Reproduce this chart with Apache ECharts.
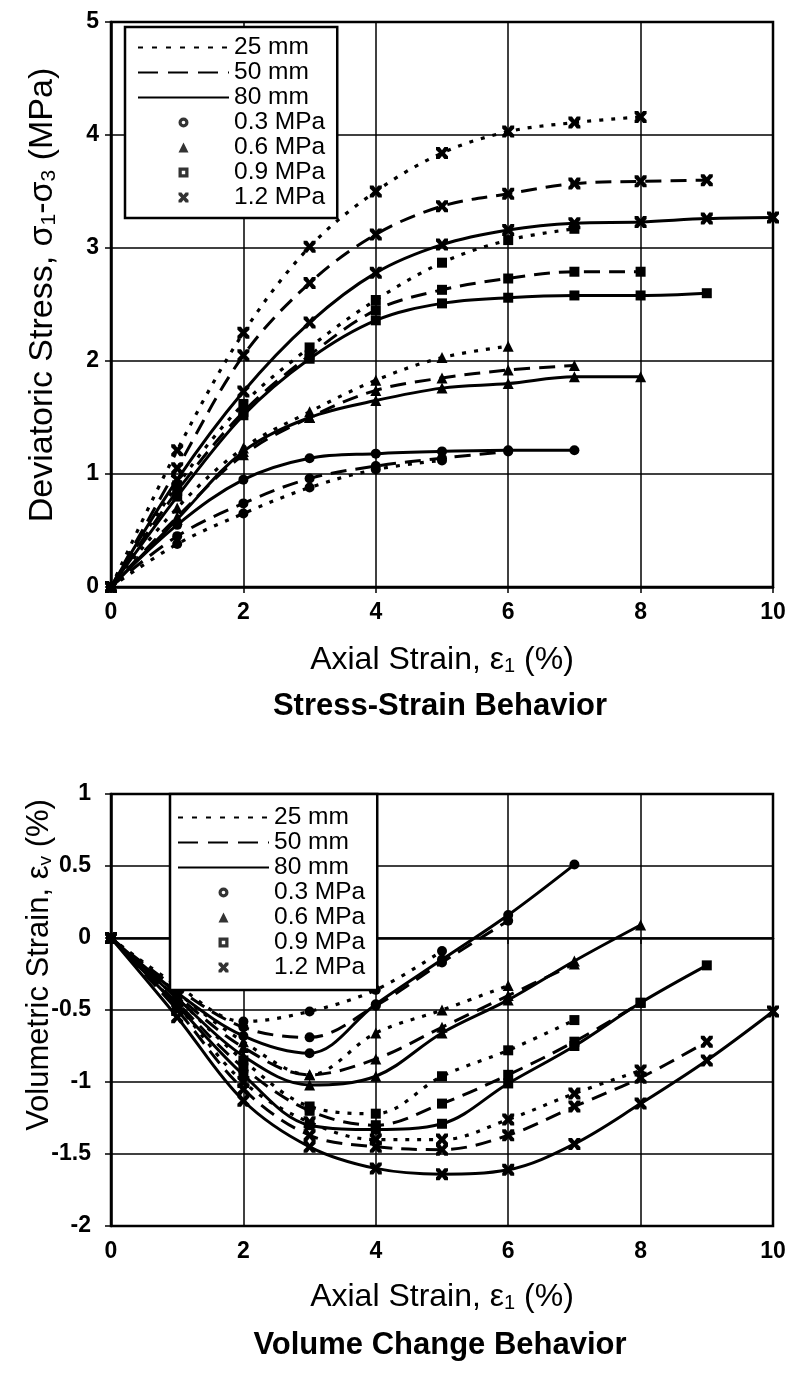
<!DOCTYPE html>
<html><head><meta charset="utf-8">
<script src="https://cdn.jsdelivr.net/npm/echarts@6/dist/echarts.min.js"></script>
<style>html,body{margin:0;padding:0;background:#fff}#c{width:789px;height:1385px}</style>
</head><body><div id="c"></div>
<script>
// ---------- data ----------
const strain = [0, 1, 2, 3, 4, 5, 6, 7, 8, 9, 10];
const xTicks = [0, 2, 4, 6, 8, 10];
const stressTicks = [0, 1, 2, 3, 4, 5];
const volTicks = [-2, -1.5, -1, -0.5, 0, 0.5, 1];
const sizes = ['25 mm', '50 mm', '80 mm'];
const pressures = ['0.3 MPa', '0.6 MPa', '0.9 MPa', '1.2 MPa'];

// Deviatoric stress (MPa) vs axial strain (%)
const s25_03 = [0, 0.38, 0.65, 0.88, 1.04, 1.12];
const s25_06 = [0, 0.70, 1.23, 1.55, 1.83, 2.03, 2.13];
const s25_09 = [0, 0.90, 1.62, 2.12, 2.54, 2.87, 3.07, 3.17];
const s25_12 = [0, 1.21, 2.25, 3.01, 3.50, 3.84, 4.03, 4.11, 4.16];
const s50_03 = [0, 0.45, 0.74, 0.96, 1.07, 1.14, 1.20];
const s50_06 = [0, 0.62, 1.17, 1.50, 1.74, 1.85, 1.92, 1.96];
const s50_09 = [0, 0.85, 1.55, 2.05, 2.45, 2.63, 2.73, 2.79, 2.79];
const s50_12 = [0, 1.05, 2.05, 2.69, 3.12, 3.37, 3.48, 3.57, 3.59, 3.60];
const s80_03 = [0, 0.55, 0.95, 1.14, 1.18, 1.20, 1.21, 1.21];
const s80_06 = [0, 0.60, 1.20, 1.50, 1.65, 1.76, 1.80, 1.86, 1.86];
const s80_09 = [0, 0.80, 1.52, 2.02, 2.36, 2.51, 2.56, 2.58, 2.58, 2.60];
const s80_12 = [0, 0.95, 1.73, 2.34, 2.78, 3.03, 3.16, 3.22, 3.23, 3.26, 3.27];

// Volumetric strain (%) vs axial strain (%)
const v25_03 = [0, -0.33, -0.58, -0.51, -0.36, -0.09];
const v25_06 = [0, -0.38, -0.72, -0.95, -0.66, -0.50, -0.33];
const v25_09 = [0, -0.42, -0.85, -1.17, -1.22, -0.96, -0.78, -0.57];
const v25_12 = [0, -0.47, -1.00, -1.28, -1.40, -1.40, -1.26, -1.08, -0.92];
const v50_03 = [0, -0.35, -0.62, -0.69, -0.47, -0.17, 0.12];
const v50_06 = [0, -0.40, -0.76, -0.95, -0.84, -0.62, -0.40, -0.18];
const v50_09 = [0, -0.45, -0.90, -1.20, -1.30, -1.15, -0.95, -0.72, -0.45];
const v50_12 = [0, -0.50, -1.05, -1.37, -1.45, -1.47, -1.37, -1.17, -0.97, -0.72];
const v80_03 = [0, -0.38, -0.68, -0.80, -0.46, -0.15, 0.16, 0.51];
const v80_06 = [0, -0.42, -0.82, -1.02, -0.96, -0.66, -0.43, -0.16, 0.09];
const v80_09 = [0, -0.47, -0.95, -1.30, -1.33, -1.29, -1.01, -0.75, -0.45, -0.19];
const v80_12 = [0, -0.55, -1.13, -1.45, -1.60, -1.64, -1.61, -1.43, -1.15, -0.85, -0.51];

const stressSets = [[s25_03, s25_06, s25_09, s25_12], [s50_03, s50_06, s50_09, s50_12], [s80_03, s80_06, s80_09, s80_12]];
const volSets = [[v25_03, v25_06, v25_09, v25_12], [v50_03, v50_06, v50_09, v50_12], [v80_03, v80_06, v80_09, v80_12]];

// ---------- styles ----------
const FONT = '"Liberation Sans", Arial, sans-serif';
const lineStyles = [
  { type: [4, 8], width: 3.2, cap: 'butt' },
  { type: [16, 9], width: 3 },
  { type: 'solid', width: 3 }
];
const legendLineStyles = [
  { type: [5, 9], width: 2.5 },
  { type: [20, 10], width: 2.5 },
  { type: 'solid', width: 2.5 }
];
const xPath = 'path://M0,0 L3,0 L5,2.6 L7,0 L10,0 L10,2.4 L7.4,5 L10,7.6 L10,10 L7,10 L5,7.4 L3,10 L0,10 L0,7.6 L2.6,5 L0,2.4 Z';
const triPath = 'path://M5,0 L10,10 L0,10 Z';
const rectPath = 'path://M0,0 L10,0 L10,10 L0,10 Z';
const symbols = ['circle', triPath, rectPath, xPath];
const symSizes = [10, 11, 10, 12];
const legendSymbols = [
  'path://M5,0 A5,5 0 1,1 5,10 A5,5 0 1,1 5,0 Z M5,3.2 A1.8,1.8 0 1,0 5,6.8 A1.8,1.8 0 1,0 5,3.2 Z',
  triPath,
  'path://M0,0 L10,0 L10,10 L0,10 Z M3.3,3.3 L3.3,6.7 L6.7,6.7 L6.7,3.3 Z',
  xPath
];

const series = [];
function addSets(sets, gi) {
  sets.forEach((group, si) => {
    group.forEach((vals, pi) => {
      series.push({
        type: 'line', name: sizes[si] + ' ' + pressures[pi] + ' g' + gi,
        xAxisIndex: gi, yAxisIndex: gi,
        data: vals.map((v, i) => [strain[i], v]),
        smooth: 0.35,
        symbol: symbols[pi], symbolSize: symSizes[pi],
        itemStyle: { color: '#000' },
        lineStyle: Object.assign({ color: '#000' }, lineStyles[si]),
        silent: true, z: 3
      });
    });
  });
}
addSets(stressSets, 0);
addSets(volSets, 1);

// legend-only series
sizes.forEach((n, si) => series.push({ type: 'line', name: n, data: [], xAxisIndex: 0, yAxisIndex: 0, symbol: 'none', lineStyle: Object.assign({ color: '#000' }, legendLineStyles[si]), itemStyle: { color: '#000' } }));
pressures.forEach((n, pi) => series.push({ type: 'scatter', name: n, data: [], xAxisIndex: 0, yAxisIndex: 0, symbol: legendSymbols[pi], itemStyle: { color: '#000' } }));

const legendData = sizes.map(n => ({ name: n, itemStyle: { opacity: 0 } })).concat(pressures.map(n => ({ name: n })));
function legend(left, top, lh, padding) {
  return {
    data: legendData, orient: 'vertical', left: left, top: top,
    itemWidth: 91, itemHeight: 10, itemGap: 0, selectedMode: false,
    backgroundColor: '#fff', borderColor: '#000', borderWidth: 2.5, borderRadius: 0,
    padding: padding,
    textStyle: { fontFamily: FONT, fontSize: 24.5, color: '#000', lineHeight: lh }
  };
}

function xAxis(gi) {
  return {
    type: 'value', gridIndex: gi, min: xTicks[0], max: xTicks[xTicks.length - 1], interval: xTicks[1] - xTicks[0],
    axisLine: { show: true, lineStyle: { color: '#000', width: 2.5 } },
    axisTick: { show: true, inside: false, length: 6, lineStyle: { color: '#000', width: 1.5 } },
    axisLabel: { margin: 14, fontFamily: FONT, fontSize: 23, fontWeight: 'bold', color: '#000' },
    splitLine: { show: true, lineStyle: { color: '#000', width: 1.5 } }
  };
}
function yAxis(gi, ticks, margin) {
  return {
    type: 'value', gridIndex: gi, min: ticks[0], max: ticks[ticks.length - 1], interval: ticks[1] - ticks[0],
    axisLine: { show: true, lineStyle: { color: '#000', width: 2.5 } },
    axisTick: { show: true, inside: false, length: 6, lineStyle: { color: '#000', width: 1.5 } },
    axisLabel: { margin: margin, fontFamily: FONT, fontSize: 23, fontWeight: 'bold', color: '#000' },
    splitLine: { show: true, lineStyle: { color: '#000', width: 1.5 } }
  };
}

function txt(x, y, rich, rot, bold, size) {
  return {
    type: 'text', x: x, y: y, rotation: rot || 0, silent: true,
    style: {
      text: rich, align: 'center', verticalAlign: 'middle', fill: '#000',
      rich: {
        n: { fontFamily: FONT, fontSize: size, fontWeight: bold ? 'bold' : 'normal', lineHeight: 38, verticalAlign: 'bottom', fill: '#000' },
        s: { fontFamily: FONT, fontSize: Math.round(size * 0.62), lineHeight: 24, verticalAlign: 'bottom', fill: '#000' }
      }
    }
  };
}

const option = {
  animation: false,
  backgroundColor: '#fff',
  grid: [
    { left: 111, top: 22, width: 662, height: 565, show: true, borderColor: '#000', borderWidth: 2.5, backgroundColor: 'transparent' },
    { left: 111, top: 794, width: 662, height: 432, show: true, borderColor: '#000', borderWidth: 2.5, backgroundColor: 'transparent' }
  ],
  xAxis: [xAxis(0), xAxis(1)],
  yAxis: [yAxis(0, stressTicks, 12), yAxis(1, volTicks, 20)],
  legend: [
    legend(125, 27, 25, [8, 12, 8, 12]),
    legend(170, 794, 24, [11, 12, 10, 7])
  ],
  series: series,
  graphic: [
    txt(41, 295, '{n|Deviatoric Stress, σ}{s|1}{n|-σ}{s|3}{n| (MPa)}', Math.PI / 2, false, 34),
    txt(442, 657, '{n|Axial Strain, ε}{s|1}{n| (%)}', 0, false, 32),
    txt(440, 703, '{n|Stress-Strain Behavior}', 0, true, 31),
    txt(36, 965, '{n|Volumetric Strain, ε}{s|v}{n| (%)}', Math.PI / 2, false, 31),
    txt(442, 1294, '{n|Axial Strain, ε}{s|1}{n| (%)}', 0, false, 32),
    txt(440, 1342, '{n|Volume Change Behavior}', 0, true, 31)
  ]
};
const chart = echarts.init(document.getElementById('c'), null, { renderer: 'canvas' });
chart.setOption(option);
</script></body></html>
